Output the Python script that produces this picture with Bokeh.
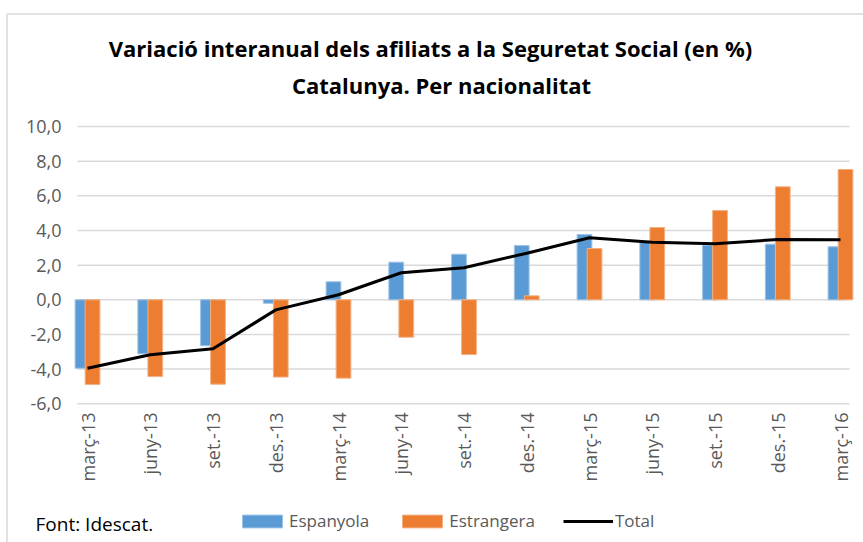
import math
from bokeh.plotting import figure
from bokeh.models import (ColumnDataSource, Legend, LegendItem, Label, Range1d)
from bokeh.embed import file_html
from bokeh.resources import INLINE

# ---- data ----
periods = ["març-13", "juny-13", "set.-13", "des.-13", "març-14", "juny-14",
           "set.-14", "des.-14", "març-15", "juny-15", "set.-15", "des.-15", "març-16"]
espanyola = [-3.95, -3.12, -2.65, -0.20, 1.04, 2.17, 2.63, 3.13, 3.77, 3.32, 3.15, 3.21, 3.06]
estrangera = [-4.89, -4.43, -4.87, -4.46, -4.52, -2.16, -3.16, 0.23, 2.96, 4.17, 5.15, 6.52, 7.52]
total = [-3.95, -3.17, -2.83, -0.58, 0.29, 1.56, 1.85, 2.69, 3.58, 3.32, 3.23, 3.48, 3.46]
y_ticks = [-6, -4, -2, 0, 2, 4, 6, 8, 10]
y_tick_labels = ["-6,0", "-4,0", "-2,0", "0,0", "2,0", "4,0", "6,0", "8,0", "10,0"]
title_line1 = "Variació interanual dels afiliats a la Seguretat Social (en %)"
title_line2 = "Catalunya. Per nacionalitat"
source_text = "Font: Idescat."

# ---- layout / style constants ----
W, H = 863, 542
X0_PX, DX = 87.0, 62.75      # pixel of first category, pixels per category
Y0_PX, DY = 299.3, 17.33     # pixel of value 0, pixels per unit
PLOT_L, PLOT_R = 77, 849     # horizontal extent of plot area (pixels)
FONT = "Open Sans"
GREY = "#595959"
BLUE = "#5B9BD5"
ORANGE = "#ED7D31"
GRID = "#D9D9D9"


def dx(px):
    return (px - X0_PX) / DX


def dy(py):
    return (Y0_PX - py) / DY


idx = list(range(len(periods)))
src = ColumnDataSource(dict(
    x=idx,
    xb=[i - 0.08 for i in idx],
    xo=[i + 0.08 for i in idx],
    esp=espanyola, est=estrangera, tot=total, lab=periods,
))

p = figure(width=W, height=H, output_backend="svg", toolbar_location=None,
           x_range=Range1d(dx(0), dx(W)), y_range=Range1d(dy(H), dy(0)),
           min_border=0)
p.axis.visible = False
p.grid.visible = False
p.outline_line_color = None
p.background_fill_color = "white"

# chart border (top and left edges visible in reference)
p.segment(x0=[dx(6.5), dx(6.5)], y0=[dy(13.5), dy(13.5)],
          x1=[dx(W), dx(6.5)], y1=[dy(13.5), dy(H)],
          line_color=GRID, line_width=1.5)

# gridlines at tick values
p.segment(x0=dx(PLOT_L), x1=dx(PLOT_R), y0=y_ticks, y1=y_ticks,
          line_color=GRID, line_width=1.5)

# y tick labels
p.text(x=dx(61), y=y_ticks, text=y_tick_labels, text_align="right",
       text_baseline="middle", text_font={"value": FONT},
       text_font_size="18px", text_color=GREY)

# bars and line
b1 = p.vbar(x="xb", top="esp", bottom=0, width=0.235, source=src,
            fill_color=BLUE, line_color="#9DC3E6", line_width=1)
b2 = p.vbar(x="xo", top="est", bottom=0, width=0.235, source=src,
            fill_color=ORANGE, line_color="#F4B183", line_width=1)
ln = p.line(x="x", y="tot", source=src, line_color="black", line_width=3)

# x category labels (rotated)
p.text(x="x", y=dy(412), text="lab", source=src, angle=math.pi / 2,
       text_align="right", text_baseline="middle",
       text_font={"value": FONT}, text_font_size="18px", text_color=GREY)

# titles
p.add_layout(Label(x=430, y=H - 47, x_units="screen", y_units="screen",
                   text=title_line1, text_align="center", text_baseline="middle",
                   text_font=FONT, text_font_size="22px", text_font_style="bold",
                   text_color="black"))
p.add_layout(Label(x=441, y=H - 84, x_units="screen", y_units="screen",
                   text=title_line2, text_align="center", text_baseline="middle",
                   text_font=FONT, text_font_size="22px", text_font_style="bold",
                   text_color="black"))

# source
p.add_layout(Label(x=35, y=H - 523, x_units="screen", y_units="screen",
                   text=source_text, text_align="left", text_baseline="middle",
                   text_font=FONT, text_font_size="19px", text_color="black"))

# legend
legend = Legend(items=[LegendItem(label="Espanyola", renderers=[b1]),
                       LegendItem(label="Estrangera", renderers=[b2]),
                       LegendItem(label="Total", renderers=[ln])],
                orientation="horizontal", location=(237, 10),
                glyph_width=50, glyph_height=16, label_standoff=2, spacing=28,
                label_text_font=FONT, label_text_font_size="17px",
                label_text_color=GREY, border_line_color=None,
                background_fill_alpha=0, padding=0, margin=0)
p.add_layout(legend)

open("out.html", "w").write(file_html(p, INLINE))
